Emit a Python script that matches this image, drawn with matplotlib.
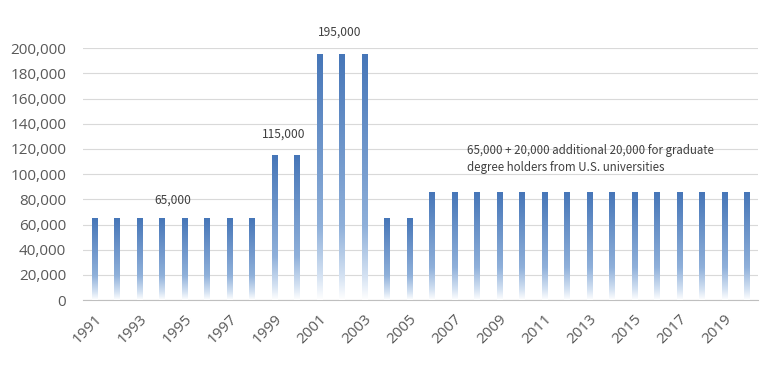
import numpy as np
import matplotlib.pyplot as plt
from matplotlib.colors import LinearSegmentedColormap

plt.rcParams['font.family'] = ['Noto Sans CJK JP', 'DejaVu Sans']

years = list(range(1991, 2021))
caps = [65000] * 8 + [115000] * 2 + [195000] * 3 + [65000] * 2 + [85000] * 15
tick_years = years[::2]

# fade from white (bottom) to solid blue (top)
cmap = LinearSegmentedColormap.from_list(
    "fade", [(0.0, "#ffffff"), (0.1, "#d3e1f2"), (0.3, "#8fb0da"), (1.0, "#4676b8")])

fig = plt.figure(figsize=(7.68, 3.71), dpi=100)
ax = fig.add_axes([0.108, 0.191, 0.879, 0.679])

grad = np.linspace(0, 1, 256).reshape(-1, 1)
w = 0.23
for i, v in enumerate(caps):
    ax.imshow(grad, cmap=cmap, origin="lower", aspect="auto",
              extent=[i - w / 2, i + w / 2, 0, v], zorder=3)

tick_font = dict(family=["Open Sans", "DejaVu Sans"], size=11)
ax.set_xlim(-0.5, len(years) - 0.5)
ax.set_ylim(0, 200000)
ax.set_yticks(range(0, 200001, 20000))
ax.set_yticklabels([f"{t:,}" for t in range(0, 200001, 20000)], color="#595959", fontdict=tick_font)
ax.set_xticks([years.index(y) for y in tick_years])
ax.set_xticklabels([str(y) for y in tick_years], rotation=45, ha="right",
                   rotation_mode="anchor", color="#595959", fontdict=tick_font)
ax.grid(axis="y", color="#d9d9d9", linewidth=0.8, zorder=0)
ax.set_axisbelow(True)
for s in ["top", "right", "left"]:
    ax.spines[s].set_visible(False)
ax.spines["bottom"].set_color("#bfbfbf")
ax.tick_params(axis="y", length=0, pad=12)
ax.tick_params(axis="x", length=0, pad=8)

tc = "#404040"
ax.text(3.5, 79000, "65,000", ha="center", va="center", fontsize=8.6, color=tc)
ax.text(8.4, 132000, "115,000", ha="center", va="center", fontsize=8.6, color=tc)
ax.text(10.9, 213000, "195,000", ha="center", va="center", fontsize=8.6, color=tc, clip_on=False)
ax.text(16.55, 112000, "65,000 + 20,000 additional 20,000 for graduate\ndegree holders from U.S. universities",
        ha="left", va="center", fontsize=8.3, color=tc, linespacing=1.4)

fig.savefig("out.png", dpi=100)
